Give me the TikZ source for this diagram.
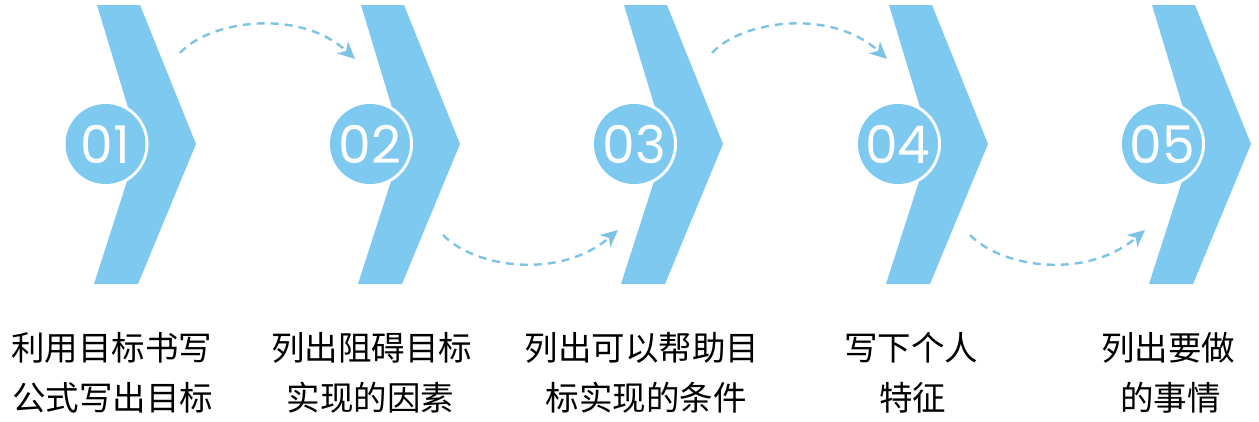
\documentclass[tikz,border=0pt]{standalone}
\usepackage{fontspec}
\newfontfamily\cjk{Noto Sans CJK SC}
\newfontfamily\pop{Poppins}
\usetikzlibrary{arrows.meta}
\definecolor{chev}{RGB}{126,201,240}
\definecolor{dashc}{RGB}{124,196,230}
\begin{document}
\begin{tikzpicture}[x=1pt,y=-1pt,
  chevron/.style={fill=chev,draw=none},
  numcircle/.style={circle,fill=chev,minimum size=80pt,inner sep=0pt,
    preaction={draw=white,line width=6pt},
    text=white,font=\pop\fontsize{52}{52}\selectfont},
  lbl/.style={font=\cjk\fontsize{33.5}{40}\selectfont,inner sep=0pt,text=black},
  flow/.style={draw=dashc,line width=2.4pt,dash pattern=on 8pt off 6pt,
    -{Stealth[length=17pt,width=16pt,inset=5pt]}}
]
\useasboundingbox (0,0) rectangle (1259,421);

% chevrons
\foreach \o in {0,264,527,792,1055}{
  \fill[chevron] ({97+\o},5) -- ({140+\o},5) -- ({196+\o},144) -- ({138+\o},284)
     -- ({94+\o},284) -- ({139+\o},144) -- cycle;
}

% number circles
\node[numcircle] (c1) at (105.5,144) {01};
\node[numcircle] (c2) at (370,144) {02};
\node[numcircle] (c3) at (634,144) {03};
\node[numcircle] (c4) at (898,144) {04};
\node[numcircle] (c5) at (1162,144) {05};

% dashed arcs
\coordinate (s1) at (180,53);  \coordinate (e1) at (355,59);
\coordinate (s2) at (443,235); \coordinate (e2) at (618,230);
\coordinate (s3) at (712,53);  \coordinate (e3) at (887,59);
\coordinate (s4) at (970,235); \coordinate (e4) at (1145,230);
\draw[flow] (s1) .. controls (210,20) and (300,8) .. (e1);
\draw[flow] (s2) .. controls (475,268) and (560,280) .. (e2);
\draw[flow] (s3) .. controls (742,20) and (832,8) .. (e3);
\draw[flow] (s4) .. controls (1002,268) and (1087,280) .. (e4);

% labels
\node[lbl] (l1a) at (112,348) {利用目标书写};
\node[lbl] (l1b) at (113,397.5) {公式写出目标};
\node[lbl] (l2a) at (371.5,348) {列出阻碍目标};
\node[lbl] (l2b) at (370.5,397.5) {实现的因素};
\node[lbl] (l3a) at (642,348) {列出可以帮助目};
\node[lbl] (l3b) at (646,397.5) {标实现的条件};
\node[lbl] (l4a) at (911,348) {写下个人};
\node[lbl] (l4b) at (912.5,397.5) {特征};
\node[lbl] (l5a) at (1168,348) {列出要做};
\node[lbl] (l5b) at (1170.5,397.5) {的事情};
\end{tikzpicture}
\end{document}
